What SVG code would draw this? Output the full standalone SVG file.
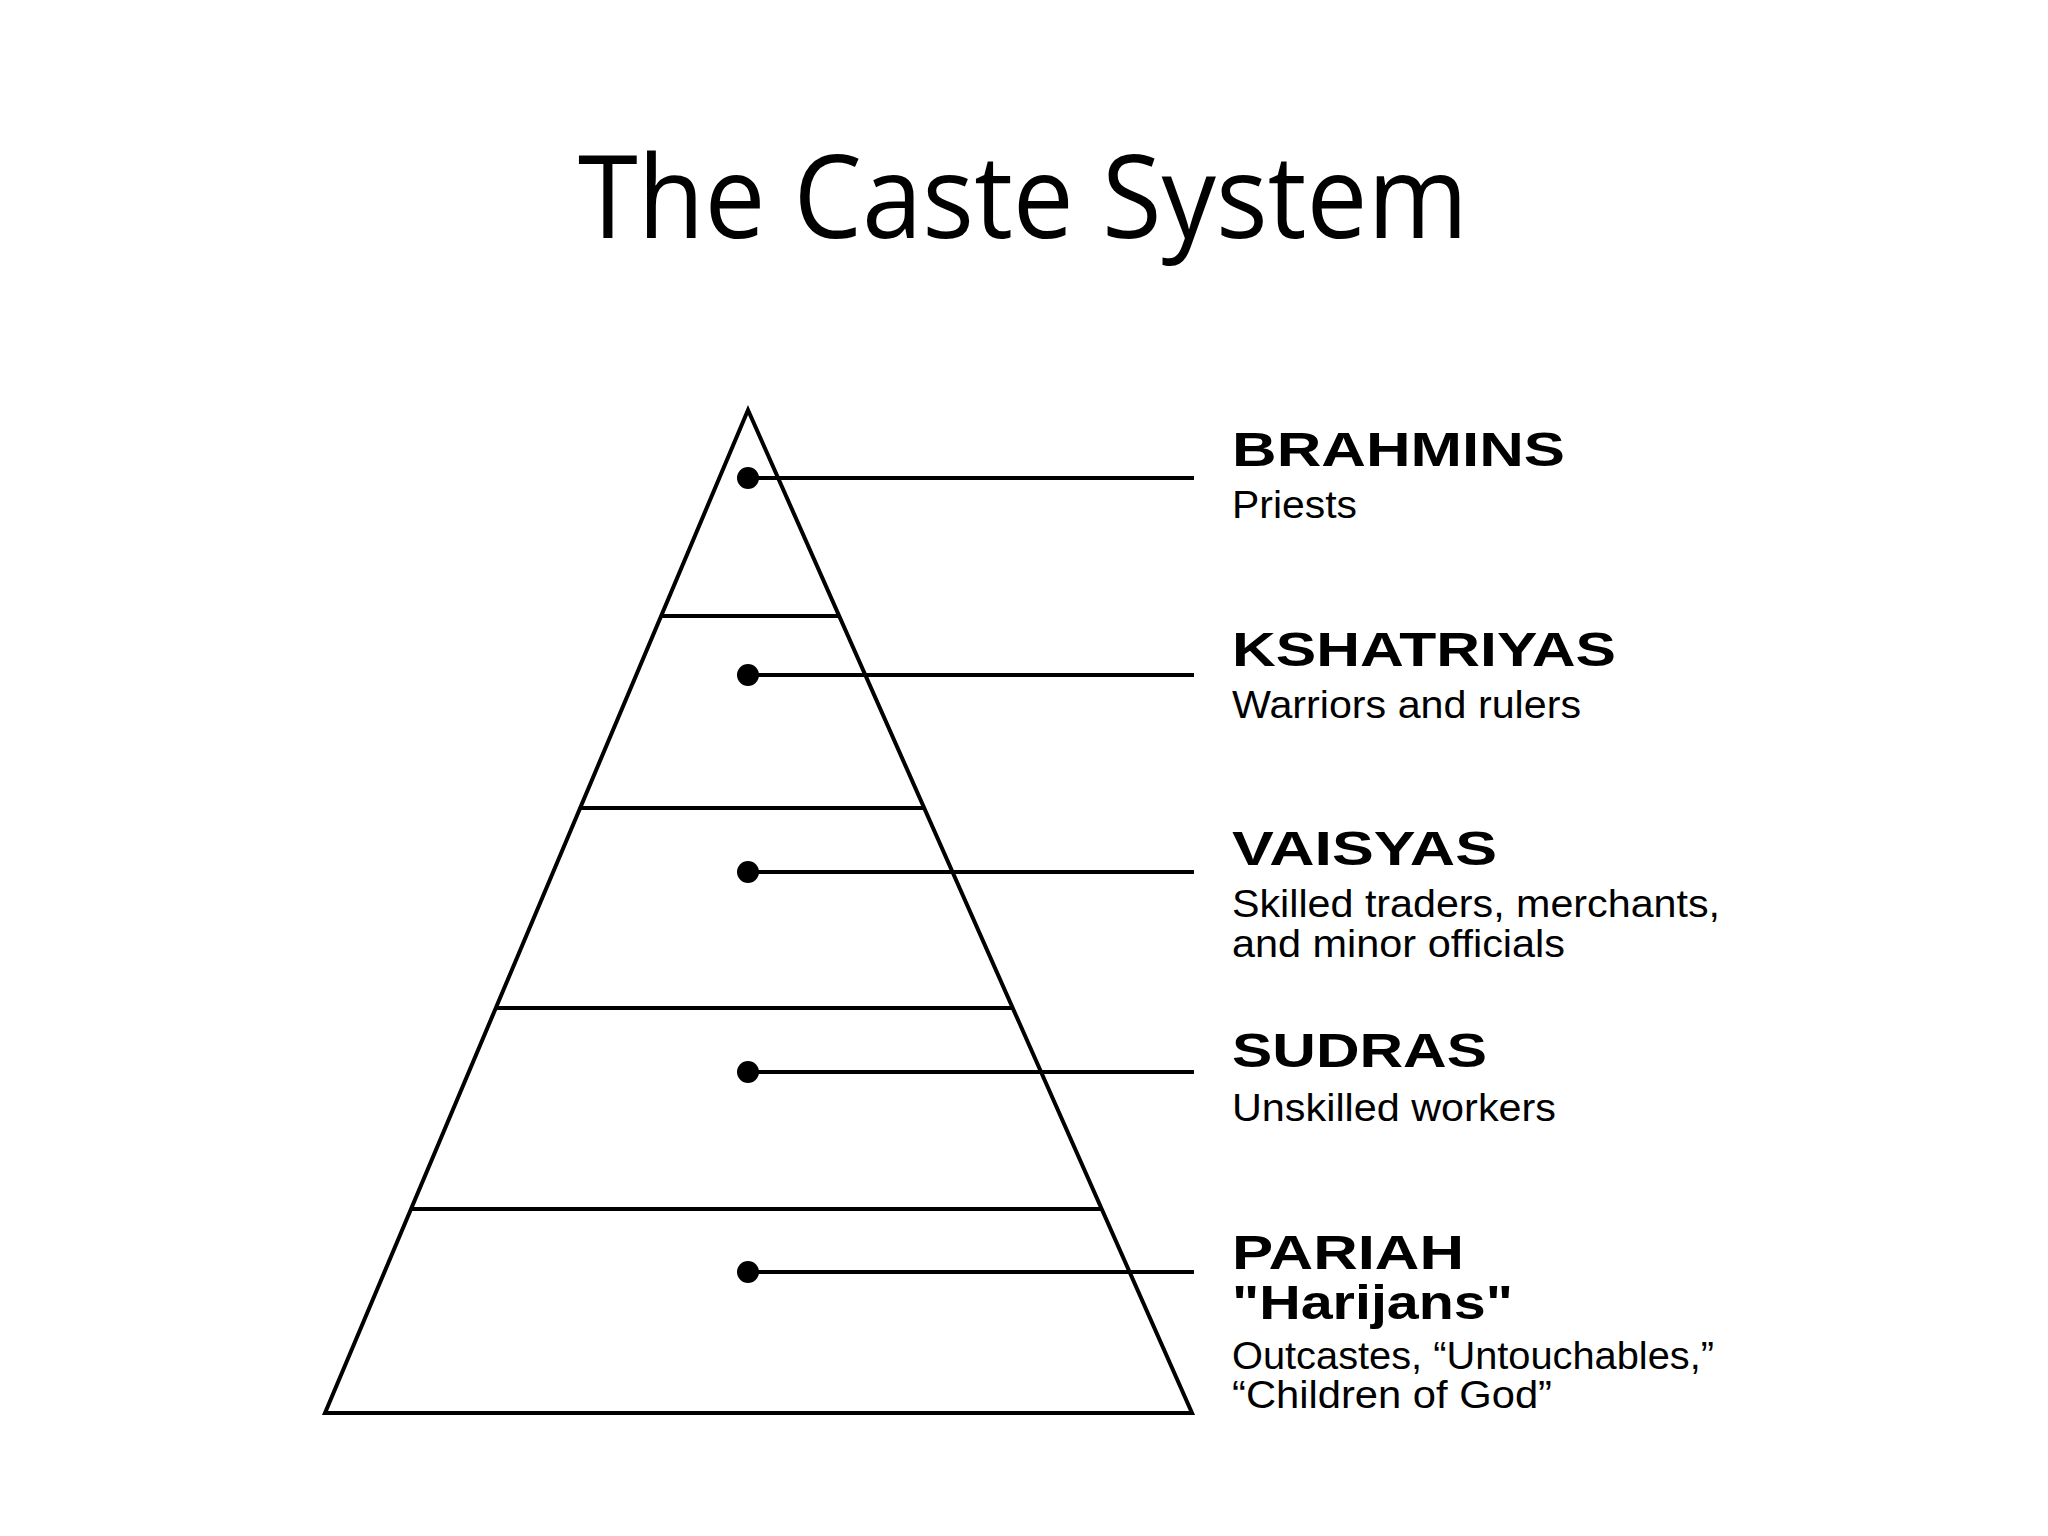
<svg xmlns="http://www.w3.org/2000/svg" width="2048" height="1536" viewBox="0 0 2048 1536">
<style>
.ln{stroke:#000;stroke-width:4;fill:none}
.h{font-family:"Liberation Sans",Arial,sans-serif;font-weight:900;font-size:49px}
.s{font-family:"Liberation Sans",Arial,sans-serif;font-size:38px}
</style>
<rect width="2048" height="1536" fill="#fff"/>
<text x="1023" y="238" text-anchor="middle" font-family="Open Sans,Liberation Sans,sans-serif" font-size="116" textLength="890" lengthAdjust="spacingAndGlyphs">The Caste System</text>
<g id="pyramid">
<polygon class="ln" points="748,410 325,1413 1192,1413"/>
<line class="ln" x1="661" y1="616" x2="839" y2="616"/>
<line class="ln" x1="580" y1="808" x2="924" y2="808"/>
<line class="ln" x1="496" y1="1008" x2="1013" y2="1008"/>
<line class="ln" x1="411" y1="1209" x2="1102" y2="1209"/>
</g>
<g id="connectors">
<circle cx="748" cy="478" r="11"/><line class="ln" x1="748" y1="478" x2="1194" y2="478"/>
<circle cx="748" cy="675" r="11"/><line class="ln" x1="748" y1="675" x2="1194" y2="675"/>
<circle cx="748" cy="872" r="11"/><line class="ln" x1="748" y1="872" x2="1194" y2="872"/>
<circle cx="748" cy="1072" r="11"/><line class="ln" x1="748" y1="1072" x2="1194" y2="1072"/>
<circle cx="748" cy="1272" r="11"/><line class="ln" x1="748" y1="1272" x2="1194" y2="1272"/>
</g>
<g id="brahmins"><text class="h" x="1232" y="466" textLength="333" lengthAdjust="spacingAndGlyphs">BRAHMINS</text><text class="s" x="1232" y="518" textLength="125" lengthAdjust="spacingAndGlyphs">Priests</text></g>
<g id="kshatriyas"><text class="h" x="1232" y="666" textLength="384" lengthAdjust="spacingAndGlyphs">KSHATRIYAS</text><text class="s" x="1232" y="718" textLength="349" lengthAdjust="spacingAndGlyphs">Warriors and rulers</text></g>
<g id="vaisyas"><text class="h" x="1232" y="865" textLength="265" lengthAdjust="spacingAndGlyphs">VAISYAS</text><text class="s" x="1232" y="917" textLength="488" lengthAdjust="spacingAndGlyphs">Skilled traders, merchants,</text><text class="s" x="1232" y="957" textLength="333" lengthAdjust="spacingAndGlyphs">and minor officials</text></g>
<g id="sudras"><text class="h" x="1232" y="1067" textLength="255" lengthAdjust="spacingAndGlyphs">SUDRAS</text><text class="s" x="1232" y="1121" textLength="324" lengthAdjust="spacingAndGlyphs">Unskilled workers</text></g>
<g id="pariah"><text class="h" x="1232" y="1269" textLength="232" lengthAdjust="spacingAndGlyphs">PARIAH</text><text class="h" x="1232" y="1319" textLength="281" lengthAdjust="spacingAndGlyphs">"Harijans"</text><text class="s" x="1232" y="1369" textLength="482" lengthAdjust="spacingAndGlyphs">Outcastes, “Untouchables,”</text><text class="s" x="1232" y="1408" textLength="320" lengthAdjust="spacingAndGlyphs">“Children of God”</text></g>
</svg>
